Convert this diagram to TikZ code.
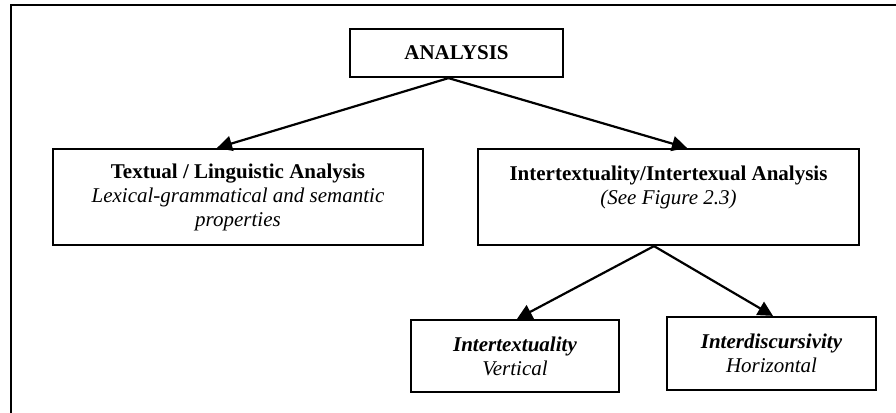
\documentclass[tikz,border=0pt]{standalone}
\usepackage{fontspec}
\setmainfont{Liberation Serif}
\usetikzlibrary{arrows.meta}
\begin{document}
\begin{tikzpicture}[x=1pt,y=-1pt,
  box/.style={draw=black,line width=2.2pt,rectangle,inner sep=0pt,align=center,
    font=\fontsize{21}{24}\selectfont},
  arr/.style={line width=2.2pt,-{Triangle[length=15pt,width=15pt]}}]
\useasboundingbox (0,0) rectangle (896,412);
\draw[line width=2.2pt] (11,420) -- (11,5) -- (900,5);
\node[box,minimum width=213pt,minimum height=48pt] (a) at (456.5,53) {\textbf{ANALYSIS}};
\node[box,minimum width=370pt,minimum height=96pt] (l) at (238,197)
  {\textbf{Textual / Linguistic Analysis}\\\textit{Lexical-grammatical and semantic}\\\textit{properties}};
\node[box,minimum width=381pt,minimum height=96pt] (r) at (668.5,197)
  {\textbf{Intertextuality/Intertexual Analysis}\\\textit{(See Figure 2.3)}\\\mbox{}};
\node[box,minimum width=208pt,minimum height=72pt] (bl) at (515,356)
  {\textbf{\textit{Intertextuality}}\\\textit{Vertical}};
\node[box,minimum width=209pt,minimum height=73pt] (br) at (771.5,353.5)
  {\textbf{\textit{Interdiscursivity}}\\\textit{Horizontal}};
\draw[arr] ([xshift=-8pt]a.south) -- ([xshift=-21pt]l.north);
\draw[arr] ([xshift=-8pt]a.south) -- ([xshift=18.5pt]r.north);
\draw[arr] ([xshift=-14.5pt]r.south) -- ([xshift=2pt]bl.north);
\draw[arr] ([xshift=-14.5pt]r.south) -- ([xshift=1.5pt]br.north);
\end{tikzpicture}
\end{document}
